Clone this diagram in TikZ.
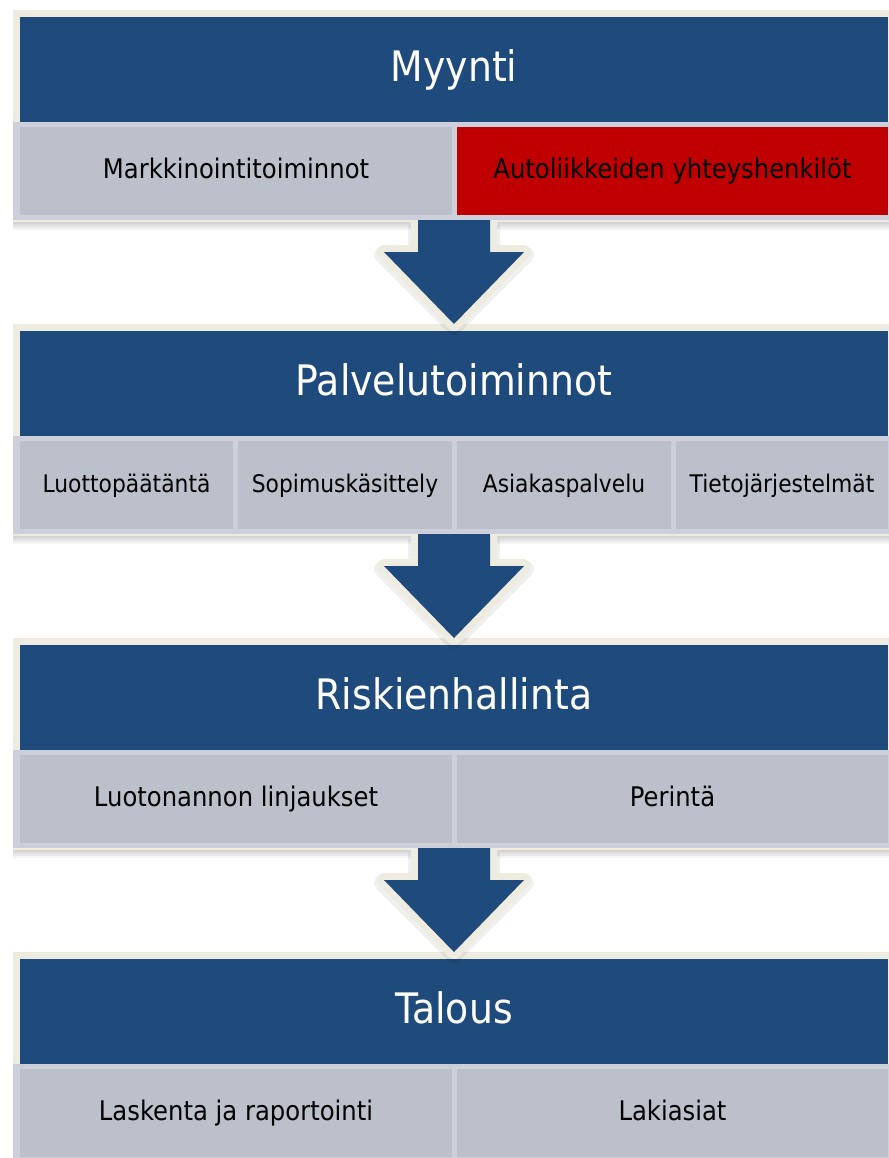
\documentclass[tikz,border=0pt]{standalone}
\usepackage{fontspec}
\setmainfont{DejaVu Sans}[FakeStretch=0.9]
\usetikzlibrary{calc}
\definecolor{hdrblue}{HTML}{1F4A7C}
\definecolor{framecream}{HTML}{EEEBE0}
\definecolor{cellgray}{HTML}{BBC0CB}
\definecolor{celledge}{HTML}{CDD0DA}
\definecolor{cellred}{HTML}{C00000}
\tikzset{
  framebox/.style={fill=framecream},
  headerbox/.style={fill=hdrblue},
  stripbox/.style={fill=celledge},
  softshade/.style={fill=black, opacity=0.045},
  htext/.style={text=white, font=\fontsize{31.5}{36}\selectfont, anchor=base, inner sep=0pt},
  ctext/.style={text=black, font=\fontsize{20.25}{24}\selectfont, anchor=base, inner sep=0pt},
  smalltext/.style={ctext, font=\fontsize{18.2}{22}\selectfont},
  arrowrim/.style={draw=framecream, line width=10.5pt, line join=round},
  arrowshade/.style={draw=black, line width=12pt, line join=round, opacity=0.06},
  arrowbody/.style={fill=hdrblue},
}
\newcommand\drawblock[3]{% #1 top y, #2 name, #3 title
  \fill[softshade] (13,#1+2) rectangle (900,#1+220);
  \fill[softshade] (13,#1+2) rectangle (900,#1+218);
  \fill[softshade] (13,#1+2) rectangle (900,#1+216);
  \fill[softshade] (13,#1+2) rectangle (900,#1+214);
  \fill[framebox] (13,#1) rectangle (900,#1+212);
  \fill[headerbox] (20,#1+7) rectangle (888,#1+112);
  \fill[stripbox] (13,#1+112) rectangle (900,#1+210);
  \coordinate (#2-bot) at (454,#1+212);
  \node[htext] (#2) at (454,#1+71) {#3};
}
\newcommand\drawcell[7]{% #1 x0, #2 x1, #3 block top, #4 fill, #5 text style, #6 name, #7 text
  \fill[#4] (#1,#3+117) rectangle (#2,#3+205);
  \node[#5] (#6) at ({(#1+#2)/2},#3+168) {#7};
}
\newcommand\drawarrow[1]{% #1 coordinate at the stem top
  \path[arrowshade] ($(#1)+(38,3)$) -- ++(0,30) -- ++(34,0) -- ++(-72,72) -- ++(-72,-72) -- ++(34,0) -- ++(0,-30);
  \path[arrowrim] ($(#1)+(-36,0)$) -- ++(0,30) -- ++(-34,0) -- ++(70,72) -- ++(70,-72) -- ++(-34,0) -- ++(0,-30);
  \path[arrowbody] ($(#1)+(-36,-2)$) -- ++(0,32) -- ++(-34,0) -- ++(70,72) -- ++(70,-72) -- ++(-34,0) -- ++(0,-32) -- cycle;
}
\begin{document}
\begin{tikzpicture}[x=0.75pt,y=-0.75pt]
\useasboundingbox (0,0) rectangle (889,1158);
\clip (0,0) rectangle (889,1158);
\fill[white] (0,0) rectangle (889,1158);
% block 1
\drawblock{10}{myynti}{Myynti}
\drawcell{20}{452}{10}{cellgray}{ctext}{markk}{Markkinointitoiminnot}
\drawcell{457}{888}{10}{cellred}{ctext}{autol}{Autoliikkeiden yhteyshenkilöt}
% block 2
\drawblock{324}{palvelu}{Palvelutoiminnot}
\drawcell{20}{233}{324}{cellgray}{smalltext}{luotto}{Luottopäätäntä}
\drawcell{238}{452}{324}{cellgray}{smalltext}{sopimus}{Sopimuskäsittely}
\drawcell{457}{671}{324}{cellgray}{smalltext}{asiakas}{Asiakaspalvelu}
\drawcell{676}{888}{324}{cellgray}{smalltext}{tieto}{Tietojärjestelmät}
% block 3
\drawblock{638}{riski}{Riskienhallinta}
\drawcell{20}{452}{638}{cellgray}{ctext}{linja}{Luotonannon linjaukset}
\drawcell{457}{888}{638}{cellgray}{ctext}{perinta}{Perintä}
% block 4
\drawblock{952}{talous}{Talous}
\drawcell{20}{452}{952}{cellgray}{ctext}{laskenta}{Laskenta ja raportointi}
\drawcell{457}{888}{952}{cellgray}{ctext}{laki}{Lakiasiat}
% arrows
\drawarrow{myynti-bot}
\drawarrow{palvelu-bot}
\drawarrow{riski-bot}
\end{tikzpicture}
\end{document}
